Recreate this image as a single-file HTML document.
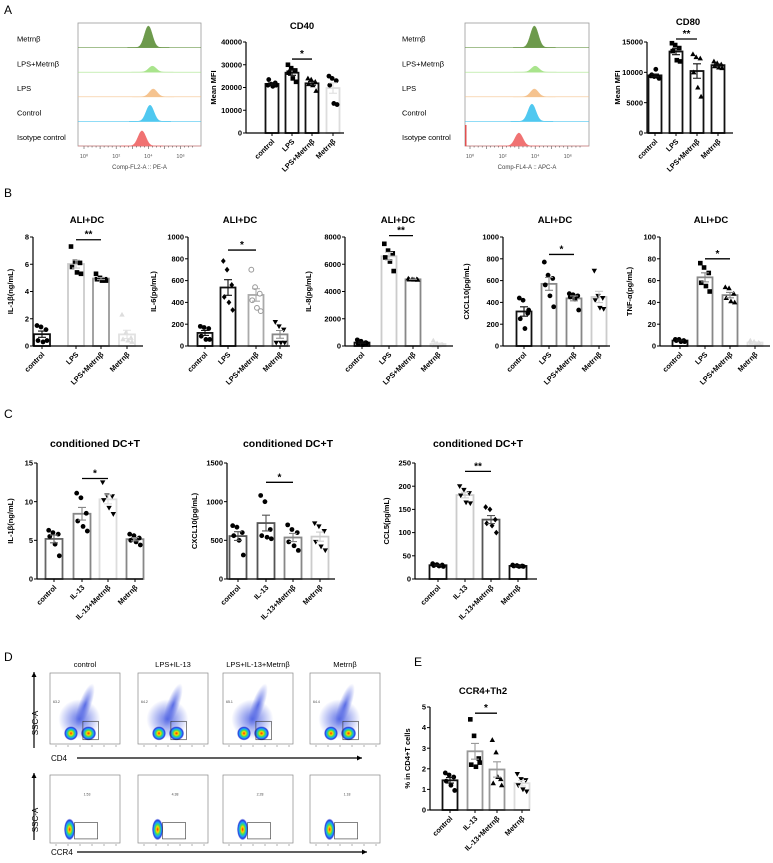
<!DOCTYPE html>
<html><head><meta charset="utf-8"><style>
html,body{margin:0;padding:0;background:#fff;}
svg{display:block;font-family:"Liberation Sans",Arial,sans-serif;}
</style></head><body>
<svg id="fig" width="773" height="863" viewBox="0 0 773 863" xmlns="http://www.w3.org/2000/svg">
<defs>
<radialGradient id="blob" cx="50%" cy="50%" r="50%">
<stop offset="0%" stop-color="#ff2a00"/><stop offset="25%" stop-color="#ffd400"/><stop offset="45%" stop-color="#3ee05a"/><stop offset="65%" stop-color="#1aa0ff"/><stop offset="85%" stop-color="#2a3cd8"/><stop offset="100%" stop-color="#2a3cd8" stop-opacity="0"/>
</radialGradient>
<radialGradient id="cloud" cx="50%" cy="50%" r="50%">
<stop offset="0%" stop-color="#3a50e0" stop-opacity="0.8"/><stop offset="100%" stop-color="#3a50e0" stop-opacity="0"/>
</radialGradient>
</defs>
<g font-size="12" fill="#000">
<text x="4" y="14">A</text>
<text x="4" y="197">B</text>
<text x="4" y="418">C</text>
<text x="4" y="661">D</text>
<text x="414" y="666">E</text>
</g>
</svg>
<script>
// ---------- data ----------
const catsLPS = ["control","LPS","LPS+Metrnβ","Metrnβ"];
const catsIL = ["control","IL-13","IL-13+Metrnβ","Metrnβ"];
const histRows = ["Metrnβ","LPS+Metrnβ","LPS","Control","Isotype control"];
const histPeakCD40 = [4.0, 4.25, 4.3, 4.1, 3.6];
const histHeightCD40 = [1.0, 0.28, 0.36, 0.75, 0.7];
const histPeakCD80 = [3.95, 4.0, 3.95, 3.8, 3.0];
const histHeightCD80 = [1.0, 0.28, 0.36, 0.8, 0.6];
const histTickLabels = ["10⁰","10²","10⁴","10⁶"];

const cd40Ticks = [0,10000,20000,30000,40000];
const cd40Pts = [[21000,21500,22000,23500,20500,21000],[30000,28500,27500,26500,24000,22500],[24000,23500,22500,21500,21000,18500],[25000,24000,23000,21000,13000,12500]];
const cd80Ticks = [0,5000,10000,15000];
const cd80Pts = [[9400,9300,9200,9600,10500,9000],[14800,14500,14000,13500,12000,11800],[13000,12500,12300,10000,7500,6000],[11800,11500,11300,11000,10800,10700]];
const il1bTicks = [0,2,4,6,8];
const il1bPts = [[1.5,1.4,1.2,0.4,0.3,0.4],[7.3,6.2,6.1,5.8,5.4,5.3],[5.3,5.0,4.9,4.9,4.8,4.8],[2.3,1.0,0.6,0.5,0.4,0.3]];
const il6Ticks = [0,200,400,600,800,1000];
const il6Pts = [[180,170,160,90,60,60],[780,700,560,450,400,330],[700,540,480,420,350,320],[220,180,150,30,30,30]];
const il8Ticks = [0,2000,4000,6000,8000];
const il8Pts = [[450,350,250,150,100,200],[7500,7000,6800,6500,6200,5500],[4950,4900,4900,4880,4870,4860],[400,200,100,50,50,100]];
const cxclBTicks = [0,200,400,600,800,1000];
const cxclBPts = [[440,420,300,250,160,330],[770,650,620,560,460,360],[480,470,460,450,430,330],[690,460,440,420,350,340]];
const tnfTicks = [0,20,40,60,80,100];
const tnfPts = [[6,6,5,5,4,4],[76,72,67,58,55,50],[54,53,48,44,41,40],[5,4,3,3,2,2]];
const il1bCTicks = [0,5,10,15];
const il1bCPts = [[6.3,6.0,5.8,5.5,4.5,3.0],[11.1,10.5,8.5,7.5,6.8,6.2],[12.5,10.8,10.7,10.2,9.2,8.4],[5.8,5.6,5.3,5.0,4.8,4.4]];
const cxclCTicks = [0,500,1000,1500];
const cxclCPts = [[690,670,600,560,500,310],[1080,1000,640,560,540,520],[700,640,600,480,430,370],[720,680,620,480,420,370]];
const ccl5Ticks = [0,50,100,150,200,250];
const ccl5Pts = [[33,31,30,29,28,27],[200,192,185,180,165,163],[155,150,128,120,115,100],[30,29,28,28,27,27]];
const ccr4Ticks = [0,1,2,3,4,5];
const ccr4Pts = [[1.8,1.7,1.6,1.4,1.2,0.95],[4.4,3.6,2.5,2.2,2.1,2.3],[3.4,2.8,1.5,1.3,1.6,1.2],[1.75,1.5,1.45,1.2,1.0,0.9]];
const flowTitles = ["control","LPS+IL-13","LPS+IL-13+Metrnβ","Metrnβ"];
const flowGateTop = ["63.2","64.2","65.1","64.4"];
const flowGateBottom = ["1.53","4.38","2.28","1.18"];

// ---------- helpers ----------
const NS="http://www.w3.org/2000/svg";
const svg=document.getElementById('fig');
function mk(tag,attrs,parent){const e=document.createElementNS(NS,tag);for(const k in attrs)e.setAttribute(k,attrs[k]);(parent||svg).appendChild(e);return e;}
function txt(s,attrs,parent){const e=mk('text',attrs,parent);e.textContent=s;return e;}
const mean=a=>a.reduce((p,c)=>p+c,0)/a.length;
const sem=a=>{const m=mean(a);const v=a.reduce((p,c)=>p+(c-m)*(c-m),0)/(a.length-1);return Math.sqrt(v/a.length);};
const jit=[-5,-1,4,-4,1,5];

function marker(g,type,x,y,col){
  let e;
  if(type==='c'){e=mk('circle',{cx:x,cy:y,r:2.4,fill:col},g);}
  else if(type==='o'){e=mk('circle',{cx:x,cy:y,r:2.4,fill:'#fff',stroke:col,'stroke-width':1},g);}
  else if(type==='s'){e=mk('rect',{x:x-2.3,y:y-2.3,width:4.6,height:4.6,fill:col},g);}
  else if(type==='t'){e=mk('polygon',{points:`${x},${y-2.8} ${x-2.7},${y+2} ${x+2.7},${y+2}`,fill:col},g);}
  else if(type==='v'){e=mk('polygon',{points:`${x},${y+2.8} ${x-2.7},${y-2} ${x+2.7},${y-2}`,fill:col},g);}
  else {e=mk('polygon',{points:`${x},${y-2.9} ${x-2.4},${y} ${x},${y+2.9} ${x+2.4},${y}`,fill:col},g);}
  
  
}

function barChart(o){
  const g=mk('g',{});
  
  
  const ymax=o.ticks[o.ticks.length-1];
  const Y=v=>o.bottom-v/ymax*(o.bottom-o.top);
  const t=txt(o.title,{x:o.titleX,y:o.titleY,'text-anchor':'middle','font-size':o.tfs||9.5,'font-weight':'bold'},g);
  
  
  const yl=txt(o.ylabel,{x:0,y:0,'text-anchor':'middle','font-size':7.5,'font-weight':'bold',transform:`translate(${o.ax-o.ylOff},${(o.top+o.bottom)/2}) rotate(-90)`},g);
  
  
  o.pts.forEach((p,i)=>{
    const c=o.centers[i],m=mean(p),col=o.colors[i];
    const r=mk('rect',{x:c-o.bw/2,y:Y(m),width:o.bw,height:o.bottom-Y(m),fill:'#fff',stroke:col,'stroke-width':1.8},g);
    
    
  });
  o.pts.forEach((p,i)=>{
    const c=o.centers[i],m=mean(p),s=sem(p),col=o.ptColors?o.ptColors[i]:'#000';
    p.forEach((v,j)=>marker(g,o.markers[i],c+jit[j]*o.bw/16,Y(v),col));
    const ec=o.errColors?o.errColors[i]:o.colors[i];
    mk('path',{d:`M${c},${Y(m+s)}V${Y(m-s)}M${c-4},${Y(m+s)}H${c+4}M${c-4},${Y(m-s)}H${c+4}`,stroke:ec,'stroke-width':1.1,fill:'none'},g);
  });
  mk('line',{x1:o.ax,y1:o.top,x2:o.ax,y2:o.bottom,stroke:'#000','stroke-width':1.2},g);
  mk('line',{x1:o.ax,y1:o.bottom,x2:o.xend,y2:o.bottom,stroke:'#000','stroke-width':1.2},g);
  o.ticks.forEach(v=>{
    mk('line',{x1:o.ax-3,y1:Y(v),x2:o.ax,y2:Y(v),stroke:'#000','stroke-width':1},g);
    const l=txt(String(v),{x:o.ax-4,y:Y(v)+2.6,'text-anchor':'end','font-size':7.5,'font-weight':'bold'},g);
    
    
  });
  o.centers.forEach((c,i)=>{
    mk('line',{x1:c,y1:o.bottom,x2:c,y2:o.bottom+3,stroke:'#000','stroke-width':1},g);
    const l=txt(o.cats[i],{x:0,y:0,'text-anchor':'end','font-size':7.3,'font-weight':'bold',transform:`translate(${c+3},${o.bottom+9}) rotate(-45)`},g);
    
    
  });
  const sy=Y(o.sigY);
  mk('line',{x1:o.centers[1],y1:sy,x2:o.centers[2],y2:sy,stroke:'#000','stroke-width':1.3},g);
  const st=txt(o.sig,{x:(o.centers[1]+o.centers[2])/2,y:sy-2,'text-anchor':'middle','font-size':10,'font-weight':'bold'},g);
  
  
}

function histogram(o){
  const g=mk('g',{});
  
  
  mk('rect',{x:o.x0,y:o.y0,width:o.x1-o.x0,height:o.y1-o.y0,fill:'none',stroke:'#999','stroke-width':0.8},g);
  const rh=(o.y1-o.y0)/histRows.length;
  const X=d=>o.dec0+d*o.decW;
  histRows.forEach((name,i)=>{
    const base=o.y0+rh*(i+1);
    const l=txt(name,{x:o.lx,y:base-rh*0.24,'font-size':7.5},g);
    
    
    mk('line',{x1:o.x0,y1:base,x2:o.x1,y2:base,stroke:o.cols[i],'stroke-width':0.6},g);
    const pk=o.peaks[i],h=o.heights[i]*(rh-3);
    let d=`M${X(pk-1.3)},${base}`;
    for(let k=-26;k<=26;k++){const dd=k*0.05;d+=` L${X(pk+dd)},${base-h*Math.exp(-dd*dd/(2*0.24*0.24))}`;}
    d+=` L${X(pk+1.3)},${base} Z`;
    const p=mk('path',{d,fill:o.cols[i],stroke:o.cols[i],'stroke-width':0.5},g);
    
    
  });
  for(let d=0;d<=6.9;d+=0.25){mk('line',{x1:X(d),y1:o.y1,x2:X(d),y2:o.y1+(d%1===0?3:1.5),stroke:'#555','stroke-width':0.6},g);}
  histTickLabels.forEach((s,i)=>txt(s,{x:X(i*2),y:o.y1+12,'text-anchor':'middle','font-size':5.5,fill:'#555'},g));
  const xl=txt(o.xlabel,{x:(o.x0+o.x1)/2,y:o.y1+23,'text-anchor':'middle','font-size':6,fill:'#444'},g);
  
  
}

const histCols=["#6d9a4c","#a9e48c","#f5c38f","#4fc8f0","#f07272"];
histogram({name:'cd40-histogram',x0:78,x1:201,y0:23,y1:146,lx:17,dec0:84,decW:16.1,peaks:histPeakCD40,heights:histHeightCD40,cols:histCols,xlabel:'Comp-FL2-A :: PE-A'});
histogram({name:'cd80-histogram',x0:465,x1:589,y0:23,y1:146,lx:402,dec0:470,decW:16.3,peaks:histPeakCD80,heights:histHeightCD80,cols:histCols,xlabel:'Comp-FL4-A :: APC-A'});
mk('rect',{x:465,y:125,width:1.5,height:21,fill:'#e05050'});

const K='#111',G='#888',L='#ccc',D='#555';
barChart({name:'cd40-chart',title:'CD40',titleX:302,titleY:29,ylabel:'Mean MFI',ylOff:30,ax:246,top:42,bottom:133,xend:344,ticks:cd40Ticks,pts:cd40Pts,centers:[272,292,312,333],bw:13,colors:[K,K,K,'#ddd'],markers:['c','s','t','c'],cats:catsLPS,sig:'*',sigY:32500});
barChart({name:'cd80-chart',title:'CD80',titleX:688,titleY:25,ylabel:'Mean MFI',ylOff:27,ax:647,top:42,bottom:133,xend:733,ticks:cd80Ticks,pts:cd80Pts,centers:[655,676,697,718],bw:13,colors:[K,K,K,K],markers:['c','s','t','t'],cats:catsLPS,sig:'**',sigY:15500});

barChart({name:'il1b-ali-chart',title:'ALI+DC',titleX:87,titleY:223,ylabel:'IL-1β(ng/mL)',ylOff:20,ax:33,top:237,bottom:346,xend:143,ticks:il1bTicks,pts:il1bPts,centers:[42,76,101,127],bw:16,colors:[K,L,'#999','#e2e2e2'],ptColors:['#000','#000','#000','#ddd'],markers:['c','s','s','t'],cats:catsLPS,sig:'**',sigY:7.8});
barChart({name:'il6-ali-chart',title:'ALI+DC',titleX:240,titleY:223,ylabel:'IL-6(pg/mL)',ylOff:32,ax:188,top:237,bottom:346,xend:290,ticks:il6Ticks,pts:il6Pts,centers:[205,228,256,280],bw:15,colors:[K,K,'#aaa',G],ptColors:['#000','#000','#999','#000'],markers:['c','d','o','v'],cats:catsLPS,sig:'*',sigY:880});
barChart({name:'il8-ali-chart',title:'ALI+DC',titleX:398,titleY:223,ylabel:'IL-8(pg/mL)',ylOff:34,ax:345,top:237,bottom:346,xend:453,ticks:il8Ticks,pts:il8Pts,centers:[362,389,413,438],bw:15,colors:[K,L,G,'#e2e2e2'],ptColors:['#000','#000','#000','#ddd'],markers:['c','s','t','t'],cats:catsLPS,sig:'**',sigY:8100});
barChart({name:'cxcl10-ali-chart',title:'ALI+DC',titleX:555,titleY:223,ylabel:'CXCL10(pg/mL)',ylOff:34,ax:503,top:237,bottom:346,xend:610,ticks:cxclBTicks,pts:cxclBPts,centers:[524,549,574,599],bw:15,colors:[K,G,G,L],markers:['c','c','c','v'],cats:catsLPS,sig:'*',sigY:840});
barChart({name:'tnf-ali-chart',title:'ALI+DC',titleX:711,titleY:223,ylabel:'TNF-α(pg/mL)',ylOff:28,ax:660,top:237,bottom:346,xend:770,ticks:tnfTicks,pts:tnfPts,centers:[680,705,730,755],bw:15,colors:[K,G,G,'#e2e2e2'],ptColors:['#000','#000','#000','#ddd'],markers:['c','s','t','t'],cats:catsLPS,sig:'*',sigY:80});

barChart({name:'il1b-conditioned-chart',title:'conditioned DC+T',titleX:95,titleY:447,tfs:10.5,ylabel:'IL-1β(ng/mL)',ylOff:24,ax:37,top:463,bottom:579,xend:143,ticks:il1bCTicks,pts:il1bCPts,centers:[54,82,108,135],bw:17,colors:['#666',G,'#ddd',G],markers:['c','c','v','c'],cats:catsIL,sig:'*',sigY:13});
barChart({name:'cxcl10-conditioned-chart',title:'conditioned DC+T',titleX:288,titleY:447,tfs:10.5,ylabel:'CXCL10(pg/mL)',ylOff:30,ax:227,top:463,bottom:579,xend:335,ticks:cxclCTicks,pts:cxclCPts,centers:[238,266,293,320],bw:17,colors:[D,D,G,'#ccc'],markers:['c','c','c','v'],cats:catsIL,sig:'*',sigY:1250});
barChart({name:'ccl5-conditioned-chart',title:'conditioned DC+T',titleX:478,titleY:447,tfs:10.5,ylabel:'CCL5(pg/mL)',ylOff:26,ax:415,top:463,bottom:579,xend:537,ticks:ccl5Ticks,pts:ccl5Pts,centers:[438,465,491,518],bw:17,colors:[K,'#ccc',D,K],markers:['c','v','d','c'],cats:catsIL,sig:'**',sigY:232});

barChart({name:'ccr4-th2-chart',title:'CCR4+Th2',titleX:483,titleY:694,ylabel:'% in CD4+T cells',ylOff:20,ax:430,top:707,bottom:810,xend:530,ticks:ccr4Ticks,pts:ccr4Pts,centers:[450,475,497,522],bw:15,colors:[K,'#999','#999','#ddd'],markers:['c','s','t','v'],cats:catsIL,sig:'*',sigY:4.7});

// ---------- flow plots ----------
const flowX=[50,138,223,310];
flowTitles.forEach((s,i)=>{
  const x0=flowX[i],w=70;
  const tt=txt(s,{x:x0+w/2,y:667,'text-anchor':'middle','font-size':7.5},svg);
  
  
  [[673,744,true],[775,843,false]].forEach(([y0,y1,top])=>{
    const g=mk('g',{});
    
    
    mk('rect',{x:x0,y:y0,width:w,height:y1-y0,fill:'#fff',stroke:'#888','stroke-width':0.7},g);
    const h=y1-y0;
    if(top){
      mk('ellipse',{cx:x0+w*0.42,cy:y0+h*0.65,rx:w*0.3,ry:h*0.28,fill:'url(#cloud)'},g);
      mk('ellipse',{cx:x0+w*0.5,cy:y0+h*0.45,rx:w*0.09,ry:h*0.32,fill:'url(#cloud)',transform:`rotate(20 ${x0+w*0.5} ${y0+h*0.45})`},g);
      mk('ellipse',{cx:x0+w*0.3,cy:y0+h*0.85,rx:w*0.1,ry:h*0.1,fill:'url(#blob)'},g);
      mk('ellipse',{cx:x0+w*0.55,cy:y0+h*0.85,rx:w*0.11,ry:h*0.1,fill:'url(#blob)'},g);
      mk('rect',{x:x0+w*0.47,y:y0+h*0.68,width:w*0.22,height:h*0.26,fill:'none',stroke:'#333','stroke-width':0.6},g);
      txt(flowGateTop[i],{x:x0+3,y:y0+h*0.42,'font-size':3.5,fill:'#444'},g);
    } else {
      mk('ellipse',{cx:x0+w*0.28,cy:y0+h*0.8,rx:w*0.08,ry:h*0.16,fill:'url(#blob)'},g);
      mk('rect',{x:x0+w*0.35,y:y0+h*0.7,width:w*0.33,height:h*0.24,fill:'none',stroke:'#333','stroke-width':0.6},g);
      txt(flowGateBottom[i],{x:x0+w*0.48,y:y0+h*0.3,'font-size':3.5,fill:'#444'},g);
    }
    for(let k=0;k<6;k++){mk('line',{x1:x0+6+k*12,y1:y1+1,x2:x0+6+k*12,y2:y1+3,stroke:'#666','stroke-width':0.5},g);}
  });
});
function arrow(x1,y1,x2,y2,name){
  const g=mk('g',{});
  
  
  mk('line',{x1,y1,x2,y2,stroke:'#000','stroke-width':1.2},g);
  const a=Math.atan2(y2-y1,x2-x1),s=5;
  const p1=[x2-s*Math.cos(a)+2.5*Math.sin(a),y2-s*Math.sin(a)-2.5*Math.cos(a)];
  const p2=[x2-s*Math.cos(a)-2.5*Math.sin(a),y2-s*Math.sin(a)+2.5*Math.cos(a)];
  mk('polygon',{points:`${x2},${y2} ${p1[0]},${p1[1]} ${p2[0]},${p2[1]}`,fill:'#000'},g);
}
arrow(34,748,34,672,'ssc-a-arrow-top');
arrow(77,758,362,758,'cd4-arrow');
arrow(34,840,34,773,'ssc-a-arrow-bottom');
arrow(77,852,367,852,'ccr4-arrow');
[['SSC-A',38,723,'ssc-a-label-top'],['SSC-A',38,820,'ssc-a-label-bottom']].forEach(([s,x,y,n])=>{
  const t=txt(s,{x:0,y:0,'font-size':8,'text-anchor':'middle',transform:`translate(${x},${y}) rotate(-90)`},svg);
  
  
});
const c4=txt('CD4',{x:51,y:761,'font-size':8},svg);


const cc=txt('CCR4',{x:51,y:855,'font-size':8},svg);


</script>
</body></html>
